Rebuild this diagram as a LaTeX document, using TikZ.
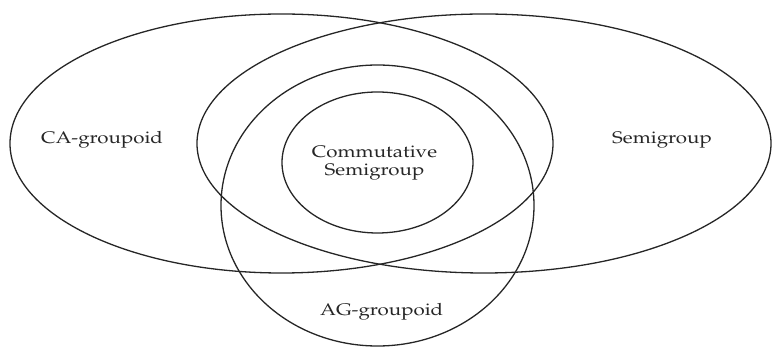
\documentclass[tikz,border=0pt]{standalone}
\usepackage[T1]{fontenc}
\usepackage{mathpazo}
\usepackage{tikz}
\usetikzlibrary{positioning}

\begin{document}
\begin{tikzpicture}[
    x=0.5pt, y=-0.5pt,
    set_line/.style={line width=0.65pt, black!85},
    set_label/.style={font=\fontsize{8.4}{8.8}\selectfont, xscale=1.22, inner sep=0pt, align=center, text=black!85}
]

% Frame of the picture
\useasboundingbox (0,0) rectangle (773,347);

% Centres of the sets
\coordinate (caCenter) at (281.5,143.5);
\coordinate (sgCenter) at (484,143.5);
\coordinate (agCenter) at (377.5,205.5);
\coordinate (csCenter) at (377.5,162.5);

% ==========================================
% The four sets
\draw[set_line] (caCenter) ellipse [x radius=271.5, y radius=129.5];
\draw[set_line] (sgCenter) ellipse [x radius=287, y radius=129.5];
\draw[set_line] (agCenter) ellipse [x radius=156.5, y radius=140.5];
\draw[set_line] (csCenter) ellipse [x radius=95.5, y radius=70.5];

% ==========================================
% Names of the sets
\node[set_label, anchor=base] (caLabel) at (102,143.3) {CA-groupoid};
\node[set_label, anchor=base] (sgLabel) at (662,143.3) {Semigroup};
\node[set_label, anchor=base] (agLabel) at (381.7,315.7) {AG-groupoid};
\node[set_label] (csLabel) at (374.5,163) {Commutative\\Semigroup};

\end{tikzpicture}
\end{document}
